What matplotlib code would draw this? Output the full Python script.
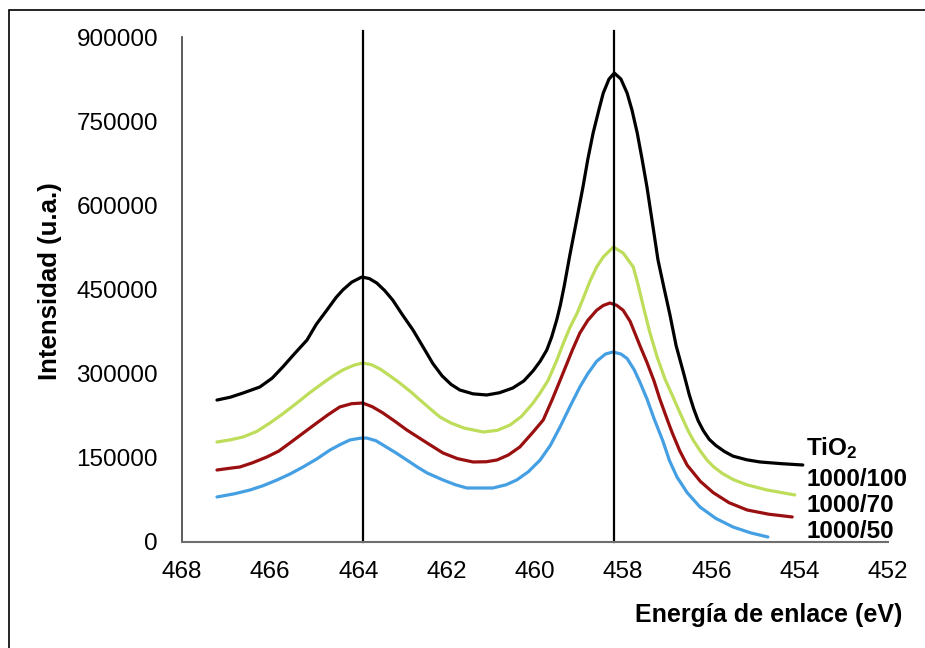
import matplotlib
matplotlib.use("Agg")
import matplotlib.pyplot as plt
from matplotlib.patches import Rectangle

plt.rcParams['font.family'] = ['Liberation Sans', 'DejaVu Sans']
plt.rcParams['mathtext.fontset'] = 'custom'
plt.rcParams['mathtext.bf'] = 'Liberation Sans:bold'
plt.rcParams['mathtext.rm'] = 'Liberation Sans'

# binding energy (eV) / intensity (a.u.)
x_tio2 = [467.20, 466.90, 466.61, 466.23, 465.95, 465.71, 465.45, 465.16, 464.95,
          464.71, 464.50, 464.35, 464.15, 463.92, 463.75, 463.58, 463.40, 463.22,
          463.00, 462.76, 462.55, 462.31, 462.10, 461.90, 461.70, 461.40, 461.09,
          460.80, 460.50, 460.25, 460.04, 459.88, 459.73, 459.62, 459.50, 459.42,
          459.33, 459.21, 459.05, 458.91, 458.80, 458.68, 458.55, 458.45, 458.32,
          458.20, 458.05, 457.91, 457.80, 457.68, 457.57, 457.46, 457.32, 457.21,
          457.08, 456.94, 456.80, 456.62, 456.50, 456.40, 456.30, 456.18, 456.05,
          455.90, 455.70, 455.51, 455.20, 454.90, 454.40, 453.93]
y_tio2 = [253000, 258000, 265500, 276200, 292000, 311900, 335000, 360000, 388000,
          413400, 436000, 449100, 463000, 472200, 469500, 461500, 448000, 431200,
          405000, 377800, 350000, 318000, 296000, 281000, 270900, 264000, 262000,
          266000, 274400, 287000, 305000, 322000, 342000, 365000, 397000, 423000,
          458000, 510000, 575000, 632600, 682000, 728800, 770000, 800100, 825000,
          835800, 825000, 800100, 770000, 728800, 682000, 632600, 560000, 502500,
          455000, 405000, 350000, 298000, 262000, 237000, 216000, 198000, 183000,
          172000, 161000, 153000, 146500, 142600, 139500, 137200]

x_100 = [467.20, 466.90, 466.61, 466.30, 466.00, 465.70, 465.39, 465.10, 464.80,
         464.55, 464.35, 464.10, 463.90, 463.70, 463.50, 463.28, 463.06, 462.80,
         462.60, 462.35, 462.15, 461.90, 461.60, 461.17, 460.85, 460.56, 460.30,
         460.04, 459.88, 459.70, 459.50, 459.35, 459.20, 459.04, 458.90, 458.75,
         458.60, 458.45, 458.22, 458.00, 457.77, 457.65, 457.54, 457.40, 457.23,
         457.05, 456.87, 456.70, 456.52, 456.40, 456.25, 456.10, 455.95, 455.75,
         455.50, 455.20, 454.74, 454.11]
y_100 = [178200, 182000, 187100, 197000, 212100, 229000, 247700, 266000, 283300,
         297000, 306500, 315000, 319000, 316000, 308000, 296000, 283300, 267000,
         253000, 236000, 222800, 212000, 203000, 196000, 199000, 208500, 224000,
         247700, 265500, 288000, 324300, 355000, 383100, 408100, 435000, 465000,
         490000, 508000, 525700, 515000, 490100, 455000, 418800, 375000, 329700,
         290000, 258400, 228000, 197000, 180000, 162000, 146000, 134000, 122000,
         111000, 102000, 92700, 83800]

x_70 = [467.20, 466.95, 466.68, 466.40, 466.07, 465.80, 465.55, 465.25, 464.94,
        464.68, 464.42, 464.15, 463.90, 463.68, 463.44, 463.15, 462.90, 462.65,
        462.44, 462.08, 461.75, 461.40, 461.10, 460.86, 460.60, 460.34, 460.05,
        459.81, 459.60, 459.36, 459.15, 458.98, 458.80, 458.60, 458.45, 458.30,
        458.15, 458.00, 457.84, 457.62, 457.46, 457.30, 457.17, 457.00, 456.89,
        456.72, 456.55, 456.25, 455.96, 455.60, 455.19, 454.70, 454.17]
y_70 = [128300, 131000, 133700, 141000, 151500, 162000, 176400, 194000, 212100,
        227000, 240600, 246500, 247700, 241000, 229900, 214000, 199600, 187000,
        176400, 158600, 148500, 142600, 143000, 146100, 155000, 169300, 195000,
        217400, 255000, 301200, 342000, 372400, 395000, 413000, 421500, 425900,
        422000, 413000, 393000, 350000, 320000, 287000, 255000, 218000, 195000,
        163000, 137000, 108000, 88000, 70000, 57000, 49500, 44600]

x_50 = [467.20, 466.80, 466.45, 466.15, 465.84, 465.55, 465.25, 464.94, 464.64,
        464.40, 464.19, 463.95, 463.81, 463.60, 463.44, 463.15, 462.90, 462.65,
        462.44, 462.08, 461.80, 461.54, 460.95, 460.65, 460.41, 460.15, 459.88,
        459.65, 459.43, 459.20, 458.98, 458.80, 458.60, 458.40, 458.23, 458.05,
        457.91, 457.75, 457.62, 457.46, 457.30, 457.10, 456.95, 456.78, 456.55,
        456.26, 455.90, 455.51, 455.10, 454.72]
y_50 = [80200, 86000, 92700, 100500, 110500, 121000, 133700, 148000, 163900,
        174000, 181800, 185000, 185300, 180500, 172900, 159000, 146100, 133000,
        123000, 110500, 102000, 96200, 96200, 102000, 110500, 125000, 146100,
        172000, 204900, 242000, 276200, 300000, 322000, 335000, 338600, 335000,
        327000, 307000, 285000, 255000, 220000, 180000, 145000, 115800, 88000,
        62400, 42000, 26700, 16000, 8900]

series_labels = [r'$\mathbf{TiO_2}$', '1000/100', '1000/70', '1000/50']
label_y = [167500, 110500, 64200, 17800]
peak_lines = [463.9, 458.2]

fig = plt.figure(figsize=(9.25, 6.48), dpi=100)
ax = fig.add_axes([0.1964, 0.1636, 0.7636, 0.7793])

kw = dict(lw=2.3, solid_joinstyle='round', solid_capstyle='round')
ax.plot(x_tio2, y_tio2, color='black', **kw)
ax.plot(x_100, y_100, color='#bedd5a', **kw)
ax.plot(x_70, y_70, color='#9a0f0f', **kw)
ax.plot(x_50, y_50, color='#459fe3', **kw)

for xv in peak_lines:
    ax.plot([xv, xv], [0, 911000], color='black', lw=1.6, clip_on=False)

ax.set_xlim(468, 452)
ax.set_ylim(0, 900000)
ax.set_xticks([468, 466, 464, 462, 460, 458, 456, 454, 452])
ax.set_yticks([0, 150000, 300000, 450000, 600000, 750000, 900000])
ax.tick_params(length=0, labelsize=17.5)
ax.tick_params(axis='y', pad=17)
ax.tick_params(axis='x', pad=14)

for s in ['top', 'right']:
    ax.spines[s].set_visible(False)
ax.spines['left'].set_color('#404040')
ax.spines['bottom'].set_color('#6e6e6e')
ax.spines['left'].set_linewidth(1.2)
ax.spines['bottom'].set_linewidth(1.5)

for lab, yv in zip(series_labels, label_y):
    ax.text(453.85, yv, lab, fontsize=17.5, fontweight='bold', ha='left', va='center')

fig.text(902 / 925, 1 - 615 / 648, 'Energía de enlace (eV)', fontsize=18,
         fontweight='bold', ha='right', va='center')
fig.text(50 / 925, 1 - 281 / 648, 'Intensidad (u.a.)', fontsize=18.5,
         fontweight='bold', ha='center', va='center', rotation=90)

fig.patches.append(Rectangle((8.5 / 925, -0.1), 1.2, 1.1 - 10.5 / 648,
                             transform=fig.transFigure, fill=False,
                             edgecolor='black', lw=1.2))

fig.savefig('out.png', dpi=100)
